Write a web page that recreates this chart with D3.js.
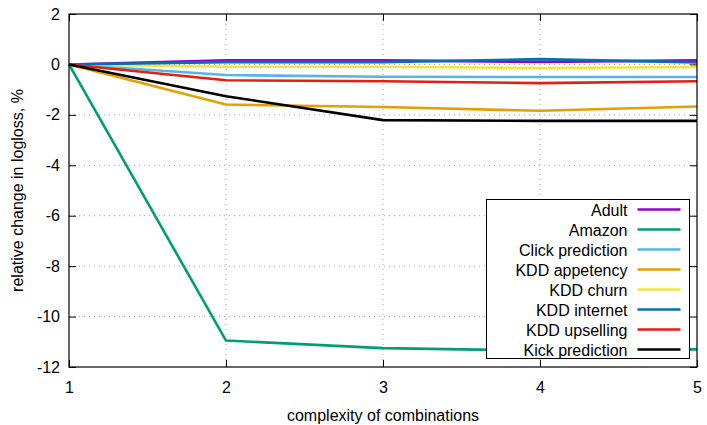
<!DOCTYPE html>
<html>
<head>
<meta charset="utf-8">
<script src="https://cdn.jsdelivr.net/npm/d3@7"></script>
<style>
  body { margin: 0; background: #fff; }
  text { font-family: "Liberation Sans", Arial, sans-serif; font-size: 16px; fill: #000; }
</style>
</head>
<body>
<svg id="chart" width="707" height="425"></svg>
<script>
// complexity levels on the x axis
const complexity = [1, 2, 3, 4, 5];

const seriesNames = ["Adult", "Amazon", "Click prediction", "KDD appetency",
  "KDD churn", "KDD internet", "KDD upselling", "Kick prediction"];
const seriesColors = ["#9400d3", "#009e73", "#56b4e9", "#e69f00",
  "#f0e442", "#0072b2", "#e51e10", "#000000"];

// relative change in logloss, %
const adult = [0, 0.16, 0.16, 0.10, 0.16];
const amazon = [0, -10.95, -11.25, -11.35, -11.30];
const clickPrediction = [0, -0.42, -0.49, -0.50, -0.50];
const kddAppetency = [0, -1.59, -1.69, -1.84, -1.67];
const kddChurn = [0, -0.09, -0.09, -0.14, -0.10];
const kddInternet = [0, 0.09, 0.09, 0.21, 0.08];
const kddUpselling = [0, -0.63, -0.67, -0.74, -0.67];
const kickPrediction = [0, -1.26, -2.21, -2.24, -2.24];

const seriesValues = [adult, amazon, clickPrediction, kddAppetency,
  kddChurn, kddInternet, kddUpselling, kickPrediction];

const yTicks = [2, 0, -2, -4, -6, -8, -10, -12];

const margin = { top: 14, right: 10, bottom: 58, left: 69 };
const svg = d3.select("#chart");
const width = 707 - margin.left - margin.right;
const height = 425 - margin.top - margin.bottom;

const g = svg.append("g")
  .attr("transform", `translate(${margin.left},${margin.top})`);

const x = d3.scaleLinear().domain([1, 5]).range([0, width]);
const y = d3.scaleLinear().domain([-12, 2]).range([height, 0]);

// grille pointillée
g.append("g").selectAll("line")
  .data(complexity.slice(1, -1))
  .join("line")
  .attr("x1", d => x(d)).attr("x2", d => x(d))
  .attr("y1", 0).attr("y2", height)
  .attr("stroke", "#a0a0a0").attr("stroke-width", 1)
  .attr("stroke-dasharray", "1,4");

g.append("g").selectAll("line")
  .data(yTicks.slice(1, -1))
  .join("line")
  .attr("x1", 0).attr("x2", width)
  .attr("y1", d => y(d)).attr("y2", d => y(d))
  .attr("stroke", "#a0a0a0").attr("stroke-width", 1)
  .attr("stroke-dasharray", "1,4");

// axes (ticks inward, mirrored like gnuplot)
const tickLen = 7;
const plain = d => String(d);
g.append("g").attr("transform", `translate(0,${height})`)
  .call(d3.axisBottom(x).tickValues(complexity).tickSize(-tickLen).tickPadding(15).tickFormat(plain));
g.append("g")
  .call(d3.axisLeft(y).tickValues(yTicks).tickSize(-tickLen).tickPadding(9).tickFormat(plain));
g.append("g").attr("transform", `translate(${width},0)`)
  .call(d3.axisRight(y).tickValues(yTicks).tickSize(-tickLen).tickFormat(""));
g.append("g")
  .call(d3.axisTop(x).tickValues(complexity).tickSize(-tickLen).tickFormat(""));

g.selectAll(".domain").remove();
g.selectAll(".tick line").attr("stroke", "#000");
g.selectAll(".tick text")
  .style("font-size", "16px")
  .style("font-family", "Liberation Sans, Arial, sans-serif");

// lines
const line = d3.line()
  .x((d, i) => x(complexity[i]))
  .y(d => y(d));

g.append("g").selectAll("path")
  .data(seriesValues)
  .join("path")
  .attr("fill", "none")
  .attr("stroke", (d, i) => seriesColors[i])
  .attr("stroke-width", 2.6)
  .attr("stroke-linejoin", "round")
  .attr("d", line);

// border
g.append("rect")
  .attr("width", width).attr("height", height)
  .attr("fill", "none").attr("stroke", "#000").attr("stroke-width", 1.2);

// legend
const legend = g.append("g")
  .attr("transform", `translate(${486.5 - margin.left},${199.5 - margin.top})`);
legend.append("rect")
  .attr("width", 203).attr("height", 159)
  .attr("fill", "#fff").attr("stroke", "#000").attr("stroke-width", 1);

const items = legend.selectAll("g.item")
  .data(seriesNames)
  .join("g")
  .attr("class", "item")
  .attr("transform", (d, i) => `translate(0,${10 + i * 20})`);
items.append("text")
  .attr("x", 141).attr("y", 6)
  .attr("text-anchor", "end")
  .text(d => d);
items.append("line")
  .attr("x1", 151).attr("x2", 194)
  .attr("stroke", (d, i) => seriesColors[i])
  .attr("stroke-width", 2.6);

// titres des axes
svg.append("text")
  .attr("x", margin.left + width / 2).attr("y", 421)
  .attr("text-anchor", "middle")
  .text("complexity of combinations");
svg.append("text")
  .attr("transform", `translate(23,${margin.top + height / 2}) rotate(-90)`)
  .attr("text-anchor", "middle")
  .text("relative change in logloss, %");
</script>
</body>
</html>
